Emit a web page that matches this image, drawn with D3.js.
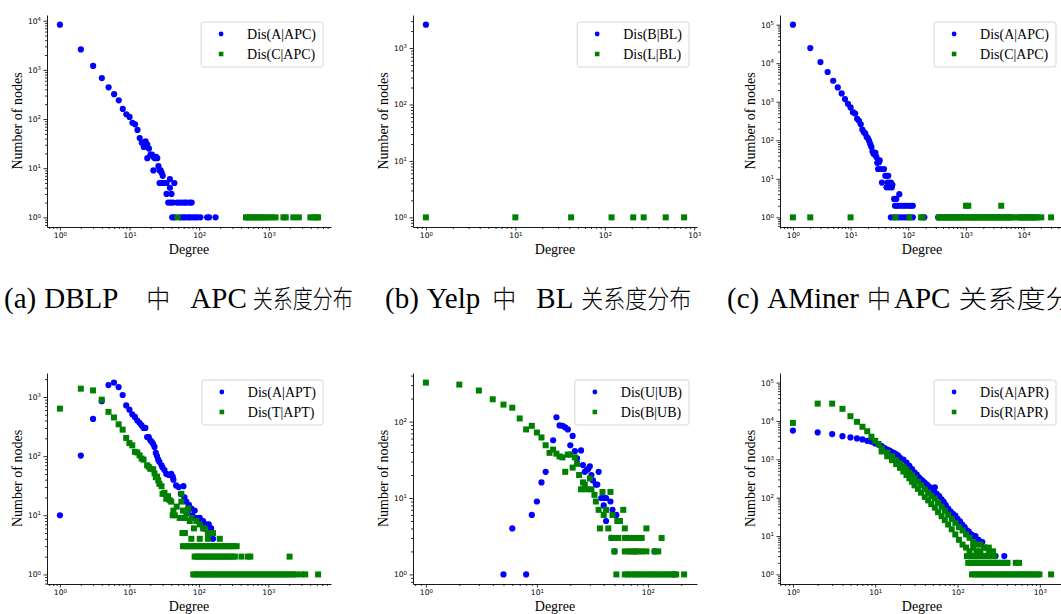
<!DOCTYPE html>
<html>
<head>
<meta charset="utf-8">
<script src="https://cdn.jsdelivr.net/npm/d3@7"></script>
<style>
  body { margin: 0; background: #fff; }
  svg { display: block; }
</style>
</head>
<body>
<svg id="fig" width="1061" height="614"></svg>
<script>
// ---- data: [degree, number of nodes] ----
const aBlue = [[1,8300],[2,2600],[3,1200],[4,680],[5,440],[6,320],[7,240],[8,160],[9,125],[10,110],[11,84],[12,78],[13,60],[14,41],[15,33],[16,27],[17,35],[18,30],[19,25],[18,16],[20,19],[21,19],[22,17],[22,9],[23,16],[24,17],[25,16],[26,11],[27,9],[28,9],[29,8],[30,7],[27,5],[29,5],[31,5],[34,5],[38,6],[44,5],[34,3],[40,3],[38,4],[36,2],[39,2],[42,2],[48,2],[52,2],[57,2],[62,2],[66,2],[73,2],[78,2],[41,1],[44,1],[54,1],[59,1],[63,1],[69,1],[74,1],[80,1],[87,1],[94,1],[104,1],[130,1],[139,1],[172,1]];
const aGreen = [[49,1],[470,1],[500,1],[540,1],[590,1],[640,1],[700,1],[760,1],[820,1],[900,1],[990,1],[1100,1],[1250,1],[1620,1],[1750,1],[2250,1],[2700,1],[3950,1],[4400,1],[4900,1],[5100,1]];

const bBlue = [[1,2600]];
const bGreen = [[1,1],[10,1],[42,1],[119,1],[208,1],[272,1],[480,1],[770,1]];

const cBlue = [[1,100000],[2,24700],[3,10700],[4,5900],[5,3500],[6,2350],[7,1640],[8,1170],[9,880],[10,710],[11,535],[12,495],[13,360],[14,320],[15,260],[16,190],[17,162],[18,150],[19,122],[20,113],[21,96],[22,79],[23,67],[24,51],[25,45],[26,43],[27,47],[28,37],[29,26],[30,18],[31,27],[32,30],[33,18],[35,8],[38,18],[40,12],[43,12],[45,12],[42,6],[44,8],[47,6],[50,8],[52,6],[53,7],[57,3],[62,3],[70,4],[59,2],[64,2],[70,2],[77,2],[85,2],[93,2],[102,2],[112,2],[120,2],[50,1],[58,1],[67,1],[76,1],[85,1],[95,1],[105,1],[120,1],[190,1],[330,1]];
const cGreen = [[1,1],[2,1],[10,1],[60,1],[105,1],[167,1],[178,1],[340,1],[360,1],[385,1],[410,1],[440,1],[470,1],[500,1],[540,1],[580,1],[620,1],[660,1],[710,1],[760,1],[810,1],[870,1],[930,1],[1000,1],[1070,1],[1150,1],[1230,1],[1320,1],[1410,1],[1510,1],[1620,1],[1740,1],[1860,1],[2000,1],[2140,1],[2300,1],[2460,1],[2640,1],[2830,1],[3030,1],[3250,1],[3480,1],[3730,1],[4000,1],[4290,1],[4600,1],[4930,1],[5280,1],[5660,1],[6070,1],[6500,1],[8000,1],[8600,1],[9200,1],[9900,1],[10600,1],[11400,1],[12200,1],[13100,1],[14000,1],[15000,1],[16100,1],[17300,1],[20300,1],[30000,1],[1000,2],[1100,2],[4100,2]];

const dBlue = [[1,10],[2,102],[3,425],[4,850],[5,1590],[6,1750],[7,1470],[8,1080],[9,720],[10,610],[11,510],[12,460],[13,400],[14,365],[15,330],[16,300],[17,300],[18,210],[19,210],[20,185],[21,175],[22,160],[23,143],[24,113],[25,100],[26,87],[27,80],[29,70],[30,64],[32,58],[34,50],[37,48],[40,50],[42,45],[43,40],[47,32],[51,30],[60,31],[55,23],[62,20],[66,17],[72,15],[78,13],[87,12],[103,9],[115,8],[128,7],[139,7],[148,6],[155,5],[70,12],[80,10],[90,9],[95,8],[110,7],[120,6],[135,5],[150,6],[160,4]];
const dGreen = [[1,635],[2,1380],[3,1290],[4,900],[5,560],[6,450],[7,345],[8,280],[9,203],[10,166],[11,152],[12,118],[13,115],[14,103],[15,91],[16,87],[18,70],[19,66],[20,61],[22,60],[23,51],[24,44],[25,45],[26,39],[27,34],[29,31],[30,23],[32,24],[34,19],[36,21],[38,18],[40,17],[42,10],[45,10],[43,12],[48,14],[53,9],[56,17],[56,23],[59,12],[63,9],[66,11],[70,13],[74,8],[78,9],[58,5],[63,5],[85,6],[92,8],[103,7],[115,6],[121,6],[135,5],[160,5],[78,4],[103,4],[135,4],[200,4],
  [59,3],[64,3],[70,3],[76,3],[83,3],[90,3],[98,3],[107,3],[116,3],[126,3],[137,3],[149,3],[162,3],[176,3],[192,3],[209,3],[227,3],[247,3],[269,3],[293,3],[320,3],[350,3],
  [87,2],[94,2],[102,2],[111,2],[121,2],[131,2],[143,2],[155,2],[169,2],[184,2],[200,2],[217,2],[236,2],[257,2],[280,2],[305,2],[330,2],[410,2],[510,2],[550,2],[2020,2],
  [83,1],[90,1],[98,1],[107,1],[116,1],[126,1],[137,1],[149,1],[162,1],[176,1],[192,1],[209,1],[227,1],[247,1],[269,1],[293,1],[320,1],[350,1],[380,1],[414,1],[450,1],[490,1],[535,1],[580,1],[630,1],[690,1],[750,1],[815,1],[890,1],[970,1],[1050,1],[1150,1],[1250,1],[1360,1],[1480,1],[1610,1],[1750,1],[1910,1],[2080,1],[2270,1],[2520,1],[3000,1],[3400,1],[5200,1]];

const eBlue = [[5,1],[6,4],[8,1],[9,6],[10,9],[11,16],[12,22],[14,57],[15,114],[16,89],[17,88],[18,84],[19,79],[20,49],[21,65],[22,41],[23,33],[25,42],[26,27],[27,22],[28,23],[29,24],[30,26],[31,20],[32,17],[34,15],[35,15],[36,22],[38,10],[40,10],[42,10],[40,8],[42,5],[46,9],[48,7],[52,6],[56,5],[47,3],[50,2],[77,2],[115,2],[170,1]];
const eGreen = [[1,324],[2,305],[3,255],[4,196],[5,167],[6,152],[7,110],[8,79],[9,88],[10,72],[11,62],[12,49],[13,39],[14,43],[15,38],[16,35],[17,34],[18,22],[19,37],[20,37],[21,25],[22,34],[23,28],[24,20],[25,13],[26,16],[27,15],[28,13],[30,18],[31,13],[33,11],[34,9],[36,7],[37,4],[39,12],[40,6],[42,7],[44,4],[46,12],[48,6],[53,5],[56,5],[60,7],[62,4],[50,3],[97,4],
  [47,3],[54,3],[62,3],[67,3],[71,3],[76,3],[82,3],[88,3],[133,3],
  [50,2],[62,2],[67,2],[71,2],[76,2],[82,2],[88,2],[97,2],[115,2],[124,2],
  [52,1],[62,1],[66,1],[71,1],[76,1],[81,1],[87,1],[93,1],[100,1],[107,1],[114,1],[122,1],[131,1],[140,1],[150,1],[160,1],[172,1],[180,1],[212,1]];

const fBlue = [[1,5630],[2,5020],[3,4540],[4,4000],[5,3730],[6,3500],[7,3300],[8,3030],[9,2880],[10,2590],[11,2400],[12,2200],[13,1950],[14,1800],[15,1700],[16,1550],[17,1450],[18,1350],[19,1250],[20,1100],[22,980],[24,820],[26,680],[28,560],[30,460],[32,400],[34,340],[36,300],[38,270],[40,245],[43,215],[46,190],[49,170],[53,187],[52,145],[56,125],[60,110],[64,90],[68,78],[72,64],[77,52],[82,44],[88,38],[94,34],[100,28],[107,24],[114,20],[122,17],[130,14],[137,13],[147,11],[155,10],[165,10],[180,8],[200,7],[220,5],[250,4],[290,3],[370,3]];
const fGreen = [[1,8900],[2,28300],[3,28300],[4,20700],[5,13300],[6,9500],[7,7050],[8,5400],[9,3870],[10,3030],[11,2500],
  [12,1900],[12,1600],[14,1500],[14,1200],[16,1200],[16,950],[18,950],[18,750],[20,780],[20,600],[22,650],[22,480],[24,540],[24,390],[26,450],[26,320],[28,380],[28,260],[30,320],[30,210],[33,260],[33,170],[36,210],[36,135],[40,165],[40,105],[44,135],[44,85],[48,110],[48,68],[53,95],[53,55],[58,75],[58,42],[64,58],[64,33],[70,46],[70,26],[77,36],[77,20],[85,28],[85,15],[94,22],[94,11],[104,17],[104,8],[115,14],[115,6],[127,11],[127,5],[140,9],[140,4],[155,7],[155,5],[170,6],[170,4],[190,6],[190,4],[210,5],[240,5],[240,4],[270,4],
  [130,3],[140,3],[150,3],[162,3],[175,3],[190,3],[205,3],[222,3],[240,3],[260,3],[280,3],
  [135,2],[146,2],[158,2],[171,2],[185,2],[200,2],[216,2],[234,2],[253,2],[274,2],[296,2],[320,2],[346,2],[375,2],[405,2],[510,2],[560,2],
  [150,1],[162,1],[175,1],[190,1],[205,1],[222,1],[240,1],[260,1],[280,1],[305,1],[330,1],[355,1],[385,1],[415,1],[450,1],[490,1],[530,1],[570,1],[620,1],[670,1],[720,1],[780,1],[845,1],[915,1],[990,1],[1370,1]];
const fYLimit = [1, 100000];

const aLabels = ["Dis(A|APC)", "Dis(C|APC)"];
const bLabels = ["Dis(B|BL)", "Dis(L|BL)"];
const cLabels = ["Dis(A|APC)", "Dis(C|APC)"];
const dLabels = ["Dis(A|APT)", "Dis(T|APT)"];
const eLabels = ["Dis(U|UB)", "Dis(B|UB)"];
const fLabels = ["Dis(A|APR)", "Dis(R|APR)"];

const captions = ["(a) DBLP 中 APC 关系度分布", "(b) Yelp 中 BL 关系度分布", "(c) AMiner 中 APC 关系度分布"];
const xTitle = "Degree";
const yTitle = "Number of nodes";

// ---- layout ----
const colLeft = [47, 413, 780];
const axW = 284;
const rowTop = [15, 373];
const rowBottom = [227, 584];
const serif = "'Liberation Serif', 'Times New Roman', serif";
const cjk = "'Noto Sans CJK SC', sans-serif";
const blue = "#0000ff", green = "#008000";

const svg = d3.select("#fig");

const panels = [
  { blue: aBlue, green: aGreen, labels: aLabels, col: 0, row: 0 },
  { blue: bBlue, green: bGreen, labels: bLabels, col: 1, row: 0 },
  { blue: cBlue, green: cGreen, labels: cLabels, col: 2, row: 0 },
  { blue: dBlue, green: dGreen, labels: dLabels, col: 0, row: 1 },
  { blue: eBlue, green: eGreen, labels: eLabels, col: 1, row: 1 },
  { blue: fBlue, green: fGreen, labels: fLabels, col: 2, row: 1, yLimit: fYLimit }
];

// matplotlib-like 5% margin in log space
function logDomain(vals) {
  const lo = Math.log10(d3.min(vals)), hi = Math.log10(d3.max(vals));
  const m = (hi - lo) * 0.05;
  return [Math.pow(10, lo - m), Math.pow(10, hi + m)];
}
function majorTicks(dom) {
  const out = [];
  for (let e = Math.ceil(Math.log10(dom[0]) - 1e-9); e <= Math.floor(Math.log10(dom[1]) + 1e-9); e++) out.push(Math.pow(10, e));
  return out;
}
function minorTicks(dom) {
  const out = [];
  for (let e = Math.floor(Math.log10(dom[0])); e <= Math.ceil(Math.log10(dom[1])); e++) {
    for (let k = 2; k <= 9; k++) {
      const v = k * Math.pow(10, e);
      if (v >= dom[0] && v <= dom[1]) out.push(v);
    }
  }
  return out;
}
function powLabel(sel) {
  sel.selectAll(".tick text").each(function (d) {
    const t = d3.select(this).text(null);
    t.append("tspan").text("10");
    t.append("tspan").attr("dy", "-0.5em").attr("font-size", "5.4px").text(Math.round(Math.log10(d)));
  });
}

panels.forEach(p => {
  const left = colLeft[p.col], top = rowTop[p.row], bottom = rowBottom[p.row];
  const h = bottom - top;
  const all = p.blue.concat(p.green);
  const xDom = logDomain(all.map(d => d[0]));
  const yDom = logDomain(all.map(d => d[1]).concat(p.yLimit || []));

  const x = d3.scaleLog().domain(xDom).range([0, axW]);
  const y = d3.scaleLog().domain(yDom).range([h, 0]);

  const g = svg.append("g").attr("transform", `translate(${left},${top})`);

  // minor ticks
  g.append("g").attr("transform", `translate(0,${h})`)
    .call(d3.axisBottom(x).tickValues(minorTicks(xDom)).tickSize(2).tickFormat(""))
    .call(s => s.select(".domain").remove());
  g.append("g")
    .call(d3.axisLeft(y).tickValues(minorTicks(yDom)).tickSize(2).tickFormat(""))
    .call(s => s.select(".domain").remove());

  // major ticks + spines
  const gx = g.append("g").attr("transform", `translate(0,${h})`)
    .call(d3.axisBottom(x).tickValues(majorTicks(xDom)).tickSize(3.5).tickSizeOuter(0).tickPadding(2.5).tickFormat(() => ""));
  const gy = g.append("g")
    .call(d3.axisLeft(y).tickValues(majorTicks(yDom)).tickSize(3.5).tickSizeOuter(0).tickPadding(2.5).tickFormat(() => ""));
  powLabel(gx);
  powLabel(gy);
  g.selectAll(".tick line").attr("stroke", "#000").attr("stroke-width", 0.8);
  g.selectAll(".domain").attr("stroke", "#000").attr("stroke-width", 0.9);
  g.selectAll(".tick text").attr("font-family", "'DejaVu Sans', sans-serif").attr("font-size", "7.6px").attr("fill", "#000");

  // points
  g.append("g").selectAll("circle").data(p.blue).enter().append("circle")
    .attr("cx", d => x(d[0])).attr("cy", d => y(d[1])).attr("r", 3.1).attr("fill", blue);
  g.append("g").selectAll("rect").data(p.green).enter().append("rect")
    .attr("x", d => x(d[0]) - 3).attr("y", d => y(d[1]) - 3).attr("width", 6).attr("height", 6).attr("fill", green);

  // axis titles
  g.append("text").attr("x", axW / 2).attr("y", h + 27).attr("text-anchor", "middle")
    .attr("font-family", serif).attr("font-size", "14px").text(xTitle);
  g.append("text").attr("transform", `translate(-30,${h / 2}) rotate(-90)`).attr("dy", "0.35em")
    .attr("text-anchor", "middle").attr("font-family", serif).attr("font-size", "14px").text(yTitle);

  // legend
  const lg = g.append("g");
  const box = lg.append("rect");
  const texts = lg.selectAll("text").data(p.labels).enter().append("text")
    .attr("x", 46).attr("y", (d, i) => 12 + i * 20).attr("dy", "0.35em")
    .attr("font-family", serif).attr("font-size", "14px").text(d => d);
  const tw = d3.max(texts.nodes(), n => n.getComputedTextLength());
  const bw = 46 + tw + 7;
  box.attr("width", bw).attr("height", 45).attr("rx", 2.5)
    .attr("fill", "#fff").attr("fill-opacity", 0.8).attr("stroke", "#d0d0d0").attr("stroke-width", 0.9);
  lg.append("circle").attr("cx", 20).attr("cy", 12).attr("r", 2.4).attr("fill", blue);
  lg.append("rect").attr("x", 17.7).attr("y", 29.7).attr("width", 4.6).attr("height", 4.6).attr("fill", green);
  lg.attr("transform", `translate(${axW - 8 - bw},7)`);
});

// captions under the top row: Latin in serif, CJK in a narrowed sans
const capStart = [4, 385, 727];
const capGaps = [[28, 20, 6], [12, 20, 8], [8, 3, 8]]; // before 中, after 中, before the last CJK run
const capCjkPitch = [20, 22, 29];
const capBase = 308;
captions.forEach((c, ci) => {
  const tokens = c.split(" ");
  let cx = capStart[ci];
  tokens.forEach((tok, ti) => {
    const isCjk = /[\u4e00-\u9fff]/.test(tok);
    if (ti > 0) {
      const prev = tokens[ti - 1];
      if (tok === "中") cx += capGaps[ci][0];
      else if (prev === "中") cx += capGaps[ci][1];
      else if (isCjk) cx += capGaps[ci][2];
      else cx += 8;
    }
    const t = svg.append("text").attr("font-family", isCjk ? cjk : serif)
      .attr("font-size", isCjk ? "25px" : "29px").attr("font-weight", isCjk ? 300 : 400)
      .attr("fill", "#000").text(tok);
    const sx = isCjk ? (tok === "中" ? 24 : capCjkPitch[ci]) / 25 : 1;
    t.attr("transform", `translate(${cx},${capBase}) scale(${sx},1)`);
    cx += t.node().getComputedTextLength() * sx;
  });
});
</script>
</body>
</html>
